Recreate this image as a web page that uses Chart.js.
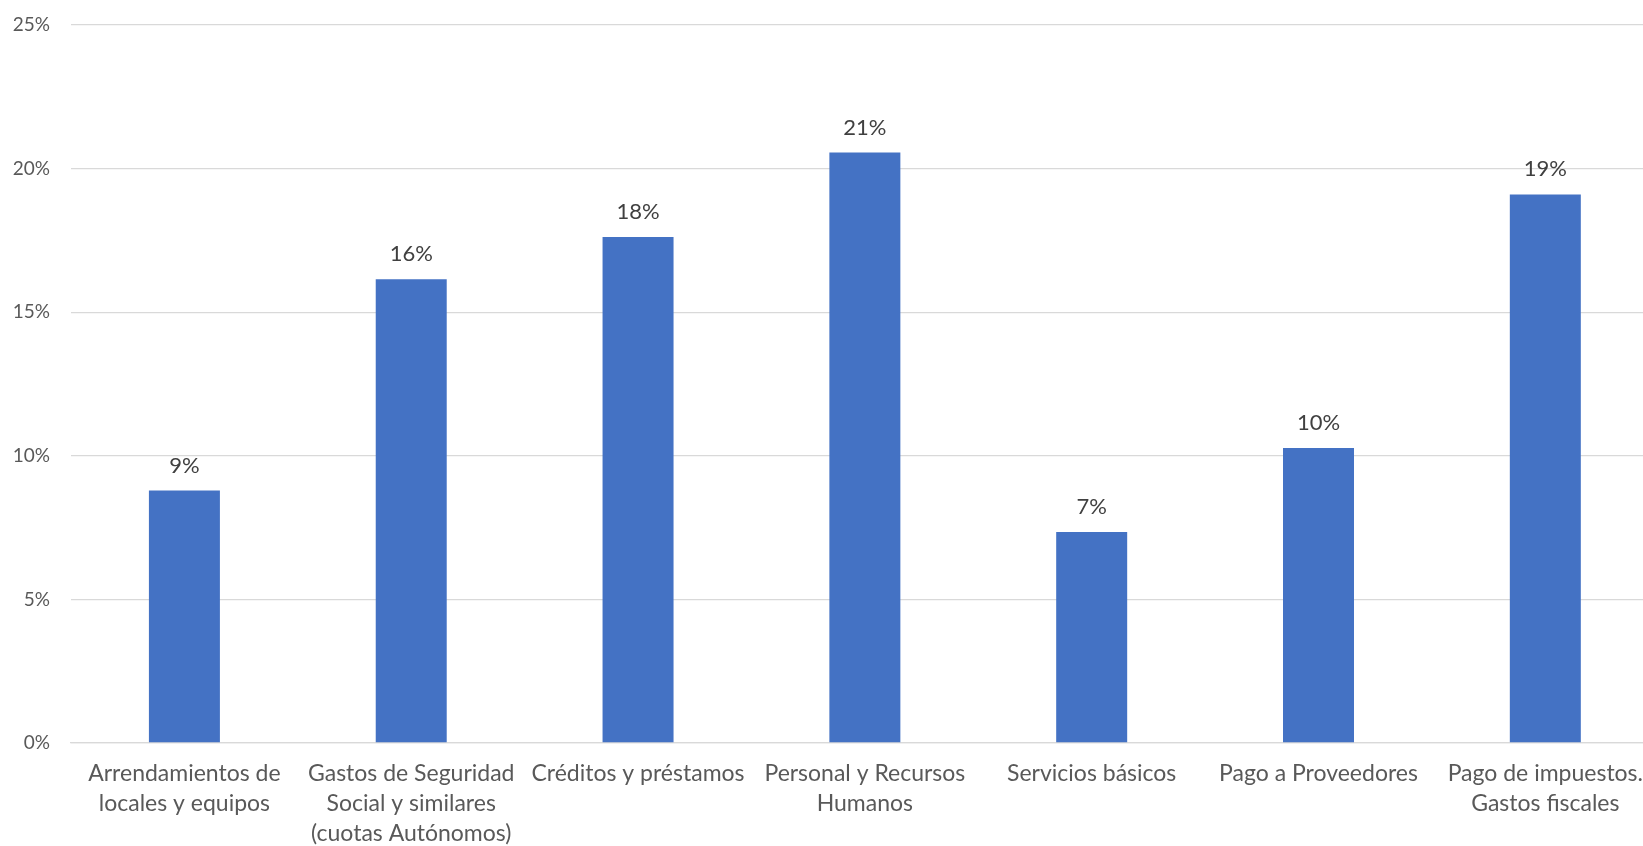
<!DOCTYPE html>
<html>
<head>
<meta charset="utf-8">
<script src="https://cdn.jsdelivr.net/npm/chart.js@4.4.0/dist/chart.umd.min.js"></script>
<style>
  html, body { margin: 0; padding: 0; background: #fff; overflow: hidden; }
  #wrap { width: 1659px; height: 846px; position: relative; }
</style>
</head>
<body>
<div id="wrap"><canvas id="bar-chart"></canvas></div>
<script>
var categorie = [
  ['Arrendamientos de', 'locales y equipos'],
  ['Gastos de Seguridad', 'Social y similares', '(cuotas Autónomos)'],
  'Créditos y préstamos',
  ['Personal y Recursos', 'Humanos'],
  'Servicios básicos',
  'Pago a Proveedores',
  ['Pago de impuestos.', 'Gastos fiscales']
];
var valori = [8.79, 16.15, 17.62, 20.56, 7.35, 10.27, 19.10];
var tickY = [0, 5, 10, 15, 20, 25];

// etichette sopra le barre
var etichette = {
  id: 'etichette',
  afterDatasetsDraw: function(chart) {
    var ctx = chart.ctx;
    var meta = chart.getDatasetMeta(0);
    ctx.save();
    ctx.font = '22px Lato';
    ctx.fillStyle = '#404040';
    ctx.textAlign = 'center';
    ctx.textBaseline = 'alphabetic';
    meta.data.forEach(function(bar, i) {
      ctx.fillText(Math.round(valori[i]) + '%', bar.x, bar.y - 18);
    });
    ctx.restore();
  }
};

var ctx = document.getElementById('bar-chart');
var myChart = new Chart(ctx, {
  type: 'bar',
  data: {
    labels: categorie,
    datasets: [{
      data: valori,
      backgroundColor: '#4472C4',
      barPercentage: 0.313,
      categoryPercentage: 1
    }]
  },
  options: {
    responsive: true,
    maintainAspectRatio: false,
    animation: false,
    layout: { padding: { top: 25, right: 0, left: 0, bottom: 0 } },
    plugins: {
      legend: { display: false },
      tooltip: { enabled: false }
    },
    scales: {
      x: {
        grid: { display: false, drawTicks: false },
        border: { display: true, color: '#d9d9d9', width: 1.3 },
        ticks: {
          color: '#595959',
          font: { family: 'Lato', size: 23, lineHeight: 1.3 },
          padding: 16,
          maxRotation: 0,
          autoSkip: false
        },
        afterFit: function(scale) { scale.height = 103; }
      },
      y: {
        min: 0,
        max: 25,
        afterBuildTicks: function(scale) {
          scale.ticks = tickY.map(function(v) { return { value: v }; });
        },
        grid: { color: '#d9d9d9', lineWidth: 1.3, drawTicks: false },
        border: { display: false },
        ticks: {
          color: '#595959',
          font: { family: 'Lato', size: 19 },
          padding: 21,
          callback: function(v) { return v + '%'; }
        },
        afterFit: function(scale) {
          scale.width = 71;
          scale.paddingTop = 0;
          scale.paddingBottom = 0;
        }
      }
    }
  },
  plugins: [etichette]
});
</script>
</body>
</html>
